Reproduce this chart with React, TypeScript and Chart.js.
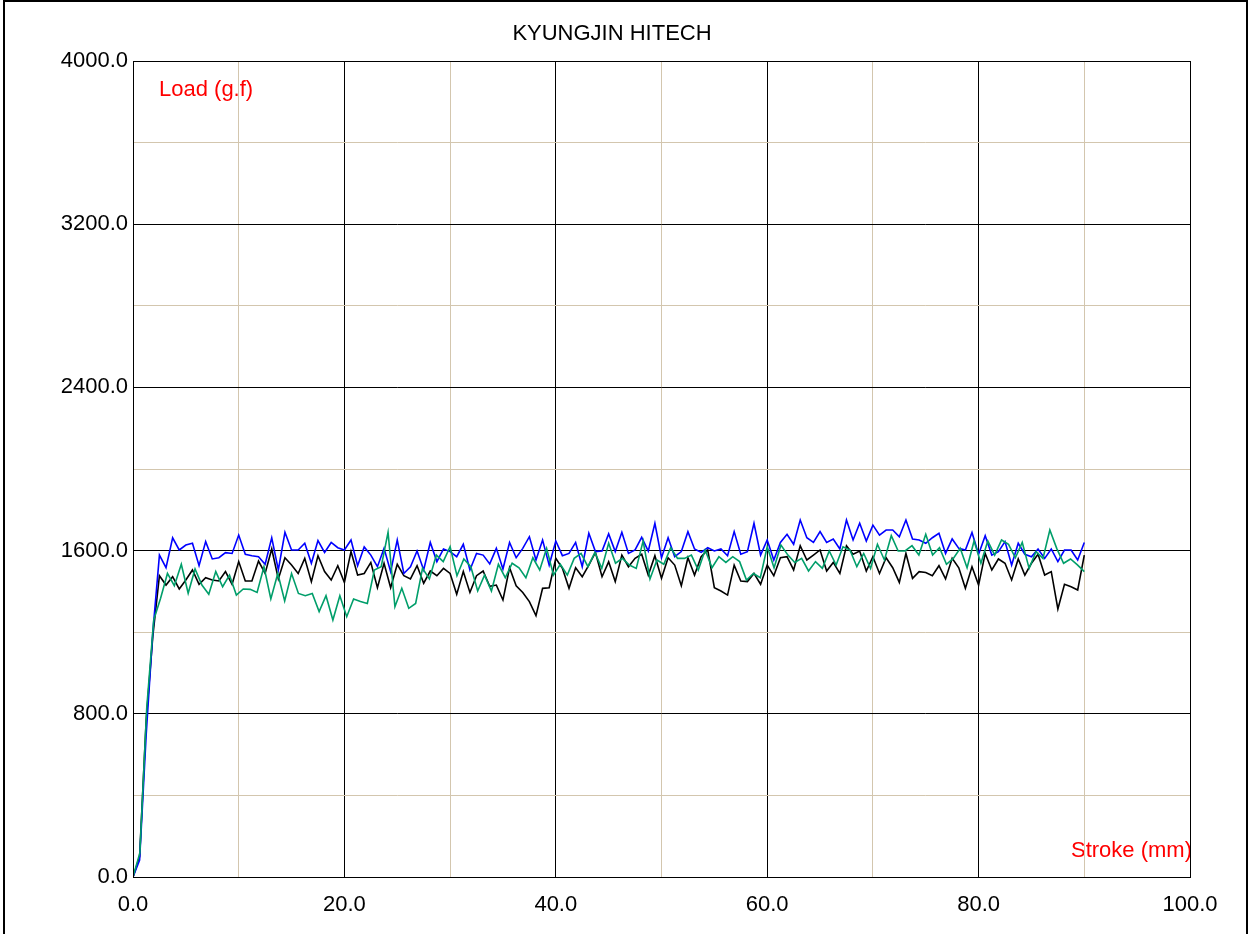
import { useEffect, useRef } from "react";
import { Chart, registerables } from "chart.js";

Chart.register(...registerables);

const TITLE = "KYUNGJIN HITECH";
const Y_LABEL = "Load (g.f)";
const X_LABEL = "Stroke (mm)";

const xGridValues = [0, 10, 20, 30, 40, 50, 60, 70, 80, 90, 100];
const yGridValues = [0, 400, 800, 1200, 1600, 2000, 2400, 2800, 3200, 3600, 4000];
const xTickLabels = ["0.0", "", "20.0", "", "40.0", "", "60.0", "", "80.0", "", "100.0"];
const yTickLabels = ["0.0", "", "800.0", "", "1600.0", "", "2400.0", "", "3200.0", "", "4000.0"];

// stroke positions (mm) of the blue and black samples
const strokeBlueBlack = [
  0, 0.625, 1.25, 1.875, 2.5, 3.125, 3.75, 4.375,
  5, 5.625, 6.25, 6.875, 7.5, 8.125, 8.75, 9.375,
  10, 10.625, 11.25, 11.875, 12.5, 13.125, 13.75, 14.375,
  15, 15.625, 16.25, 16.875, 17.5, 18.125, 18.75, 19.375,
  20, 20.625, 21.25, 21.875, 22.5, 23.125, 23.75, 24.375,
  25, 25.625, 26.25, 26.875, 27.5, 28.125, 28.75, 29.375,
  30, 30.625, 31.25, 31.875, 32.5, 33.125, 33.75, 34.375,
  35, 35.625, 36.25, 36.875, 37.5, 38.125, 38.75, 39.375,
  40, 40.625, 41.25, 41.875, 42.5, 43.125, 43.75, 44.375,
  45, 45.625, 46.25, 46.875, 47.5, 48.125, 48.75, 49.375,
  50, 50.625, 51.25, 51.875, 52.5, 53.125, 53.75, 54.375,
  55, 55.625, 56.25, 56.875, 57.5, 58.125, 58.75, 59.375,
  60, 60.625, 61.25, 61.875, 62.5, 63.125, 63.75, 64.375,
  65, 65.625, 66.25, 66.875, 67.5, 68.125, 68.75, 69.375,
  70, 70.625, 71.25, 71.875, 72.5, 73.125, 73.75, 74.375,
  75, 75.625, 76.25, 76.875, 77.5, 78.125, 78.75, 79.375,
  80, 80.625, 81.25, 81.875, 82.5, 83.125, 83.75, 84.375,
  85, 85.625, 86.25, 86.875, 87.5, 88.125, 88.75, 89.375,
  90,
];

// stroke positions (mm) of the green samples
const strokeGreen = [
  0, 0.65, 1.3, 1.96, 2.61, 3.26, 3.91, 4.57, 5.22, 5.87,
  6.52, 7.17, 7.83, 8.48, 9.13, 9.78, 10.43, 11.09, 11.74, 12.39,
  13.04, 13.7, 14.35, 15.0, 15.65, 16.3, 16.96, 17.61, 18.26, 18.91,
  19.57, 20.22, 20.87, 21.52, 22.17, 22.83, 23.48, 24.13, 24.78, 25.43,
  26.09, 26.74, 27.39, 28.04, 28.7, 29.35, 30.0, 30.65, 31.3, 31.96,
  32.61, 33.26, 33.91, 34.57, 35.22, 35.87, 36.52, 37.17, 37.83, 38.48,
  39.13, 39.78, 40.43, 41.09, 41.74, 42.39, 43.04, 43.7, 44.35, 45.0,
  45.65, 46.3, 46.96, 47.61, 48.26, 48.91, 49.57, 50.22, 50.87, 51.52,
  52.17, 52.83, 53.48, 54.13, 54.78, 55.43, 56.09, 56.74, 57.39, 58.04,
  58.7, 59.35, 60.0, 60.65, 61.3, 61.96, 62.61, 63.26, 63.91, 64.57,
  65.22, 65.87, 66.52, 67.17, 67.83, 68.48, 69.13, 69.78, 70.43, 71.09,
  71.74, 72.39, 73.04, 73.7, 74.35, 75.0, 75.65, 76.3, 76.96, 77.61,
  78.26, 78.91, 79.57, 80.22, 80.87, 81.52, 82.17, 82.83, 83.48, 84.13,
  84.78, 85.43, 86.09, 86.74, 87.39, 88.04, 88.7, 89.35, 90.0,
];

const loadBlue = [
  0, 83, 700, 1200, 1578, 1516, 1663, 1603, 1627, 1636,
  1526, 1644, 1559, 1565, 1590, 1586, 1676, 1582, 1575, 1570,
  1533, 1663, 1505, 1690, 1603, 1603, 1636, 1538, 1649, 1591,
  1640, 1614, 1603, 1652, 1526, 1618, 1578, 1521, 1611, 1497,
  1652, 1488, 1521, 1598, 1505, 1640, 1546, 1608, 1595, 1570,
  1631, 1505, 1586, 1578, 1535, 1611, 1510, 1640, 1565, 1611,
  1668, 1554, 1652, 1529, 1647, 1575, 1586, 1640, 1521, 1685,
  1595, 1598, 1682, 1595, 1690, 1586, 1603, 1665, 1598, 1734,
  1565, 1663, 1570, 1595, 1693, 1608, 1591, 1614, 1598, 1608,
  1575, 1693, 1582, 1595, 1734, 1578, 1652, 1554, 1640, 1680,
  1631, 1750, 1663, 1640, 1693, 1640, 1657, 1608, 1750, 1652,
  1734, 1647, 1725, 1676, 1701, 1701, 1668, 1750, 1657, 1652,
  1636, 1663, 1685, 1586, 1657, 1611, 1603, 1689, 1582, 1673,
  1578, 1595, 1644, 1529, 1636, 1582, 1570, 1608, 1562, 1608,
  1546, 1603, 1603, 1554, 1640,
];

const loadBlack = [
  0, 100, 770, 1180, 1477, 1431, 1472, 1412, 1456, 1505,
  1435, 1467, 1456, 1451, 1497, 1435, 1546, 1451, 1451, 1549,
  1488, 1608, 1461, 1565, 1529, 1488, 1562, 1448, 1575, 1497,
  1456, 1526, 1444, 1595, 1480, 1488, 1542, 1418, 1538, 1418,
  1533, 1477, 1461, 1526, 1440, 1500, 1477, 1513, 1488, 1386,
  1497, 1395, 1477, 1500, 1425, 1431, 1358, 1516, 1428, 1395,
  1350, 1281, 1415, 1418, 1562, 1513, 1415, 1516, 1472, 1529,
  1591, 1472, 1545, 1448, 1578, 1521, 1562, 1582, 1480, 1575,
  1464, 1565, 1529, 1428, 1565, 1480, 1570, 1603, 1418, 1402,
  1382, 1529, 1451, 1448, 1488, 1435, 1529, 1477, 1565, 1570,
  1505, 1624, 1554, 1578, 1603, 1500, 1542, 1488, 1624, 1582,
  1598, 1500, 1570, 1488, 1565, 1516, 1444, 1586, 1464, 1497,
  1493, 1477, 1526, 1461, 1562, 1516, 1415, 1521, 1431, 1586,
  1505, 1559, 1538, 1456, 1559, 1480, 1538, 1582, 1480, 1497,
  1314, 1435, 1423, 1407, 1578,
];

const loadGreen = [
  0, 118, 830, 1260, 1366, 1488, 1428, 1533, 1391, 1510,
  1431, 1386, 1497, 1423, 1480, 1382, 1412, 1410, 1395, 1521,
  1363, 1488, 1353, 1488, 1390, 1379, 1390, 1301, 1379, 1260,
  1379, 1276, 1363, 1350, 1341, 1505, 1521, 1690, 1325, 1415,
  1317, 1341, 1513, 1461, 1578, 1546, 1619, 1477, 1559, 1521,
  1402, 1480, 1402, 1533, 1467, 1538, 1516, 1467, 1565, 1505,
  1611, 1480, 1533, 1480, 1562, 1586, 1521, 1591, 1513, 1636,
  1538, 1562, 1529, 1513, 1647, 1461, 1554, 1533, 1614, 1562,
  1562, 1578, 1505, 1603, 1516, 1570, 1542, 1570, 1546, 1456,
  1488, 1467, 1619, 1516, 1627, 1578, 1542, 1562, 1500, 1546,
  1513, 1598, 1529, 1619, 1603, 1521, 1586, 1513, 1631, 1554,
  1673, 1598, 1598, 1624, 1578, 1680, 1578, 1614, 1533, 1562,
  1611, 1516, 1647, 1538, 1647, 1578, 1652, 1631, 1565, 1640,
  1513, 1595, 1562, 1701, 1611, 1538, 1559, 1530, 1497,
];

const FONT = '"Liberation Sans", Arial, sans-serif';
const TAN = "#d3c6ae";

const decoPlugin = {
  id: "deco",
  beforeDraw(chart: any) {
    const ctx = chart.ctx as CanvasRenderingContext2D;
    ctx.save();
    ctx.fillStyle = "#ffffff";
    ctx.fillRect(0, 0, chart.width, chart.height);
    ctx.font = `22px ${FONT}`;
    ctx.textBaseline = "alphabetic";
    ctx.fillStyle = "#000000";
    ctx.textAlign = "center";
    ctx.fillText(TITLE, 612, 39.5);
    ctx.fillStyle = "#ff0000";
    ctx.textAlign = "left";
    ctx.fillText(Y_LABEL, 159, 96);
    ctx.fillText(X_LABEL, 1071, 857);
    ctx.restore();
  },
  afterDraw(chart: any) {
    const ctx = chart.ctx as CanvasRenderingContext2D;
    const a = chart.chartArea;
    ctx.save();
    ctx.strokeStyle = "#000000";
    ctx.lineWidth = 1;
    ctx.strokeRect(Math.round(a.left) + 0.5, Math.round(a.top) + 0.5, Math.round(a.right - a.left), Math.round(a.bottom - a.top));
    ctx.lineWidth = 2;
    ctx.strokeRect(4, 1, 1243, 945);
    ctx.restore();
  },
};

export default function App() {
  const ref = useRef<HTMLCanvasElement>(null);

  useEffect(() => {
    const canvas = ref.current;
    if (!canvas) return;
    const mk = (xs: number[], ys: number[]) => xs.map((x, i) => ({ x, y: ys[i] }));
    const chart = new Chart(canvas, {
      type: "line",
      data: {
        datasets: [
          { label: "green", data: mk(strokeGreen, loadGreen), borderColor: "#009e6a", borderWidth: 1.6, pointRadius: 0, tension: 0, fill: false },
          { label: "blue", data: mk(strokeBlueBlack, loadBlue), borderColor: "#0000ff", borderWidth: 1.6, pointRadius: 0, tension: 0, fill: false },
          { label: "black", data: mk(strokeBlueBlack, loadBlack), borderColor: "#000000", borderWidth: 1.6, pointRadius: 0, tension: 0, fill: false },
        ],
      },
      options: {
        animation: false,
        responsive: false,
        devicePixelRatio: 1,
        events: [],
        layout: { padding: { top: 61, right: 60, bottom: 0, left: 0 } },
        plugins: {
          legend: { display: false },
          title: { display: false },
          tooltip: { enabled: false },
        },
        scales: {
          x: {
            type: "linear",
            min: 0,
            max: 100,
            afterBuildTicks: (s: any) => {
              s.ticks = xGridValues.map((v) => ({ value: v }));
            },
            afterFit: (s: any) => {
              s.height = 57;
            },
            ticks: {
              autoSkip: false,
              maxRotation: 0,
              padding: 15,
              color: "#000000",
              font: { family: FONT, size: 22 },
              callback: (_v: any, i: number) => xTickLabels[i],
            },
            grid: {
              drawTicks: false,
              lineWidth: 1,
              color: (c: any) => (c.tick && c.tick.value % 20 === 0 ? "#000000" : TAN),
            },
            border: { display: false },
          },
          y: {
            type: "linear",
            min: 0,
            max: 4000,
            afterBuildTicks: (s: any) => {
              s.ticks = yGridValues.map((v) => ({ value: v }));
            },
            afterFit: (s: any) => {
              s.width = 133;
            },
            ticks: {
              autoSkip: false,
              padding: 5,
              color: "#000000",
              font: { family: FONT, size: 22 },
              callback: (_v: any, i: number) => yTickLabels[i],
            },
            grid: {
              drawTicks: false,
              lineWidth: 1,
              color: (c: any) => (c.tick && c.tick.value % 800 === 0 ? "#000000" : TAN),
            },
            border: { display: false },
          },
        },
      },
      plugins: [decoPlugin],
    });
    return () => chart.destroy();
  }, []);

  return (
    <canvas
      ref={ref}
      width={1250}
      height={934}
      style={{ position: "absolute", left: 0, top: 0, width: 1250, height: 934 }}
    />
  );
}
